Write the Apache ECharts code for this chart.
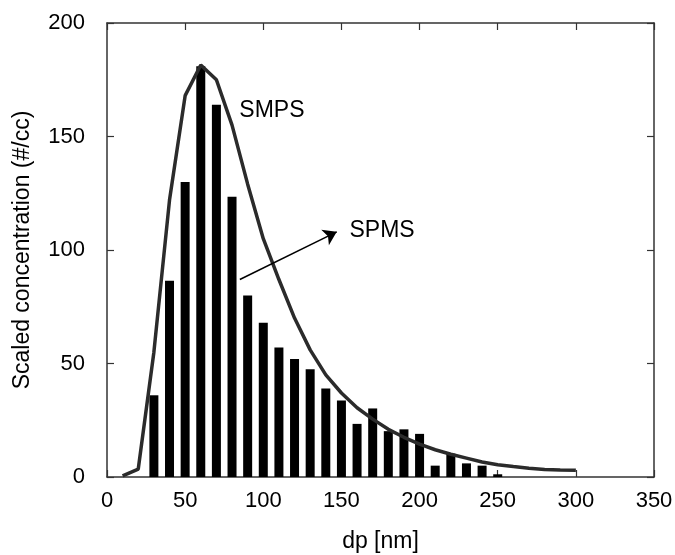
<!DOCTYPE html>
<html>
<head>
<meta charset="utf-8">
<style>
  html, body { margin: 0; padding: 0; background: #fff; }
  #chart { width: 675px; height: 555px; }
</style>
<script src="https://cdn.jsdelivr.net/npm/echarts@6/dist/echarts.min.js"></script>
</head>
<body>
<div id="chart"></div>
<script>
// SPMS size bins (nm) and scaled counts
const spmsDp = [30, 40, 50, 60, 70, 80, 90, 100, 110, 120, 130, 140, 150, 160, 170, 180, 190, 200, 210, 220, 230, 240, 250];
const spmsConc = [36, 86.5, 130, 181, 164, 123.5, 80, 68, 57, 52, 47.5, 39, 33.7, 23.4, 30.2, 20.2, 21, 19, 5, 10.3, 6, 5, 1.2];

// SMPS size distribution
const smpsDp = [10, 20, 30, 40, 50, 60, 70, 80, 90, 100, 110, 120, 130, 140, 150, 160, 170, 180, 190, 200, 210, 220, 230, 240, 250, 260, 270, 280, 290, 300];
const smpsConc = [0.5, 3.5, 55, 122, 168, 181.5, 175, 155, 129, 105, 87, 70, 56, 45, 37, 30.5, 25.5, 21, 17.5, 14.5, 12, 10, 8.3, 6.6, 5.4, 4.6, 3.9, 3.3, 3.1, 3];

// Axis tick values
const xTicks = [0, 50, 100, 150, 200, 250, 300, 350];
const yTicks = [0, 50, 100, 150, 200];

const FONT = '"Liberation Sans", Arial, sans-serif';
const AXIS_COLOR = '#333';

const chart = echarts.init(document.getElementById('chart'), null, { renderer: 'canvas' });

function xAxisBase(pos, showLabels) {
  return {
    type: 'value', position: pos,
    min: xTicks[0], max: xTicks[xTicks.length - 1], interval: xTicks[1] - xTicks[0],
    axisLine: { show: true, onZero: false, lineStyle: { color: AXIS_COLOR, width: 1.5 } },
    axisTick: { show: true, inside: true, length: 7, lineStyle: { color: AXIS_COLOR, width: 1.2 } },
    axisLabel: { show: showLabels, color: '#000', fontSize: 22, fontFamily: FONT, margin: 13 },
    splitLine: { show: false }
  };
}
function yAxisBase(pos, showLabels) {
  return {
    type: 'value', position: pos,
    min: yTicks[0], max: yTicks[yTicks.length - 1], interval: yTicks[1] - yTicks[0],
    axisLine: { show: true, onZero: false, lineStyle: { color: AXIS_COLOR, width: 1.5 } },
    axisTick: { show: true, inside: true, length: 7, lineStyle: { color: AXIS_COLOR, width: 1.2 } },
    axisLabel: { show: showLabels, color: '#000', fontSize: 22, fontFamily: FONT, margin: 22 },
    splitLine: { show: false }
  };
}

const xBottom = xAxisBase('bottom', true);
xBottom.name = 'dp [nm]';
xBottom.nameLocation = 'middle';
xBottom.nameGap = 53;
xBottom.nameTextStyle = { color: '#000', fontSize: 23, fontFamily: FONT };

const yLeft = yAxisBase('left', true);
yLeft.name = 'Scaled concentration (#/cc)';
yLeft.nameLocation = 'middle';
yLeft.nameGap = 73;
yLeft.nameTextStyle = { color: '#000', fontSize: 23, fontFamily: FONT };

chart.setOption({
  animation: false,
  backgroundColor: '#fff',
  grid: { left: 107, right: 21, top: 23, bottom: 78, containLabel: false, outerBoundsMode: 'none' },
  xAxis: [xBottom, xAxisBase('top', false)],
  yAxis: [yLeft, yAxisBase('right', false)],
  series: [
    {
      name: 'SPMS', type: 'bar', xAxisIndex: 0, yAxisIndex: 0,
      data: spmsDp.map((d, i) => [d, spmsConc[i]]),
      barWidth: 9,
      itemStyle: { color: '#000' },
      markLine: {
        silent: true,
        symbol: ['none', 'arrow'], symbolSize: 13,
        lineStyle: { color: '#000', width: 1.5, type: 'solid' },
        label: { show: false },
        data: [[{ coord: [85, 87] }, { coord: [147, 108] }]]
      },
      markPoint: {
        silent: true,
        symbol: 'circle', symbolSize: 0,
        label: { show: true, color: '#000', fontSize: 23, fontFamily: FONT, position: 'inside' },
        data: [
          { coord: [105.5, 161.5], value: 'SMPS', label: { formatter: 'SMPS' } },
          { coord: [176, 108.5], value: 'SPMS', label: { formatter: 'SPMS' } }
        ]
      },
      z: 2
    },
    {
      name: 'SMPS', type: 'line', xAxisIndex: 0, yAxisIndex: 0,
      data: smpsDp.map((d, i) => [d, smpsConc[i]]),
      symbol: 'none',
      lineStyle: { color: '#2b2b2b', width: 3.5 },
      z: 3
    }
  ]
});
</script>
</body>
</html>
